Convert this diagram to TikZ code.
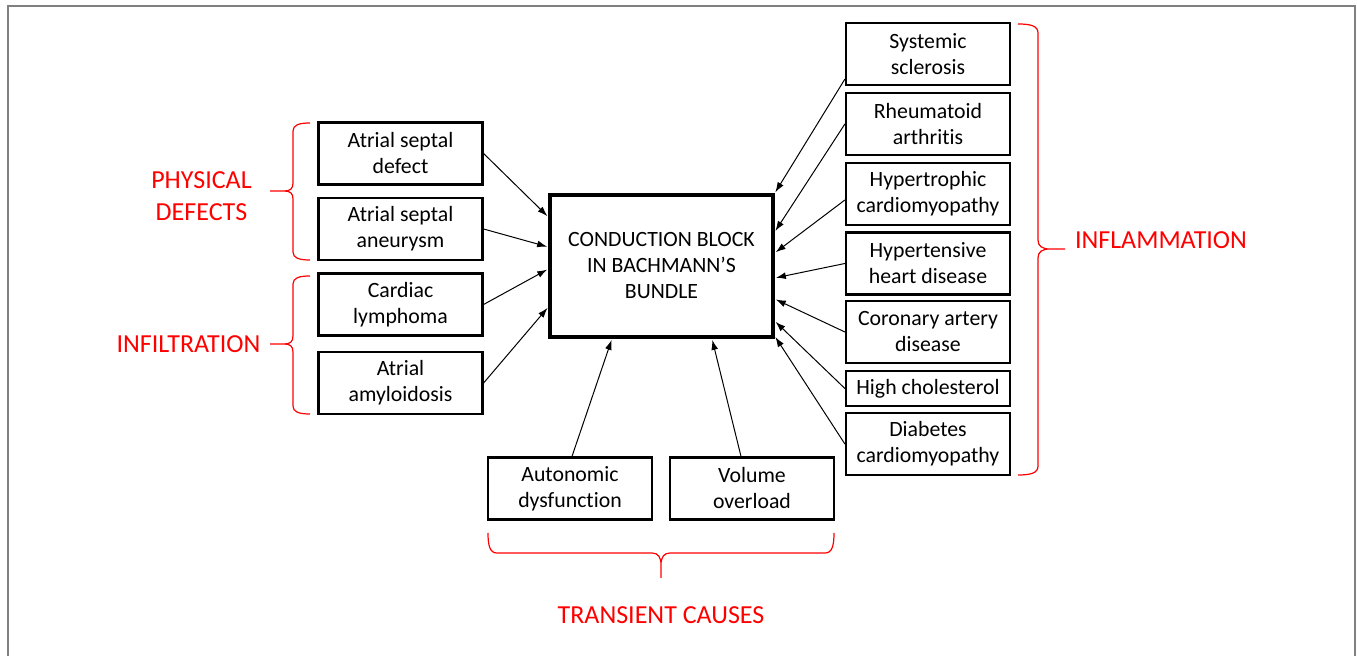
\documentclass[tikz,border=0pt]{standalone}
\usepackage{fontspec}
\setmainfont{Carlito}[Ligatures=NoCommon]
\usetikzlibrary{arrows.meta,calc}
\definecolor{framegray}{RGB}{128,128,128}

\begin{document}
\begin{tikzpicture}[x=0.5pt,y=-0.5pt,
    cause/.style={draw,line width=1.1pt,align=center,minimum width=82pt,
        minimum height=31pt,inner sep=0pt,font=\fontsize{10.9}{13}\selectfont},
    block/.style={cause,line width=1.7pt,minimum width=111.5pt,minimum height=71pt},
    grouplabel/.style={text=red,align=center,inner sep=0pt,
        font=\fontsize{13}{16}\selectfont},
    redbrace/.style={red,line width=0.6pt},
    feed/.style={-{Latex[length=5pt,width=3.4pt]},line width=0.5pt,shorten >=0.6pt}]

    \useasboundingbox (0,0) rectangle (1357,656);
    \draw[framegray,line width=0.8pt] (8,656) -- (8,6) -- (1355,6) -- (1355,656);

    % the block
    \node[block] (cb) at (661.5,266) {CONDUCTION BLOCK\\IN BACHMANN’S\\BUNDLE};

    % the causes
    \node[cause] (asd) at (400.5,153.5) {Atrial septal\\defect};
    \node[cause] (asa) at (400.5,229) {Atrial septal\\aneurysm};
    \node[cause] (lym) at (400.5,304.5) {Cardiac\\lymphoma};
    \node[cause] (amy) at (400.5,383) {Atrial\\amyloidosis};

    \node[cause] (ssc) at (928,54) {Systemic\\sclerosis};
    \node[cause] (ra) at (928,124) {Rheumatoid\\arthritis};
    \node[cause] (hcm) at (928,194) {Hypertrophic\\cardiomyopathy};
    \node[cause] (hhd) at (928,263.5) {Hypertensive\\heart disease};
    \node[cause] (cad) at (928,332) {Coronary artery\\disease};
    \node[cause,minimum height=17.5pt] (hc) at (928,388.5) {High cholesterol};
    \node[cause] (dcm) at (928,444) {Diabetes\\cardiomyopathy};

    \node[cause] (aut) at (570,488.5) {Autonomic\\dysfunction};
    \node[cause] (vol) at (752,488.5) {Volume\\overload};

    % the arrows
    \draw[feed] (asd.east) -- ($(cb.west)+(0,-49)$);
    \draw[feed] (asa.east) -- ($(cb.west)+(0,-19)$);
    \draw[feed] (lym.east) -- ($(cb.west)+(0,3)$);
    \draw[feed] (amy.east) -- ($(cb.west)+(0,41)$);

    \draw[feed] ($(ssc.south west)+(0,-7)$) -- (cb.north east);
    \draw[feed] (ra.west) -- ($(cb.east)+(0,-34)$);
    \draw[feed] ($(hcm.west)+(0,6)$) -- ($(cb.east)+(0,-13)$);
    \draw[feed] (hhd.west) -- ($(cb.east)+(0,12)$);
    \draw[feed] (cad.west) -- ($(cb.east)+(0,33)$);
    \draw[feed] (hc.west) -- ($(cb.east)+(0,55)$);
    \draw[feed] (dcm.west) -- ($(cb.east)+(0,70)$);

    \draw[feed] ($(aut.north)+(2,0)$) -- ($(cb.south)+(-49.5,0)$);
    \draw[feed] ($(vol.north)+(-11,0)$) -- ($(cb.south)+(50.5,0)$);

    % the braces
    \draw[redbrace] (310,123) .. controls (299,123) and (293,125) .. (293,131)
      -- (293,183) .. controls (293,189) and (290,191) .. (284,191) -- (270,191)
      -- (284,191) .. controls (290,191) and (293,193) .. (293,199)
      -- (293,252) .. controls (293,258) and (299,260) .. (310,260);
    \draw[redbrace] (310,276) .. controls (299,276) and (293,278) .. (293,284)
      -- (293,336) .. controls (293,342) and (290,344) .. (284,344) -- (270,344)
      -- (284,344) .. controls (290,344) and (293,346) .. (293,352)
      -- (293,406) .. controls (293,412) and (299,414) .. (310,414);
    \draw[redbrace] (1018,24) .. controls (1031,24) and (1038,26) .. (1038,33)
      -- (1038,240) .. controls (1038,246) and (1042,249) .. (1050,249) -- (1065,249)
      -- (1050,249) .. controls (1042,249) and (1038,252) .. (1038,258)
      -- (1038,466) .. controls (1038,473) and (1031,475) .. (1018,475);
    \draw[redbrace] (488,533) .. controls (488,546) and (490,553) .. (497,553)
      -- (652,553) .. controls (658,553) and (661,557) .. (661,565) -- (661,578)
      -- (661,565) .. controls (661,557) and (664,553) .. (670,553)
      -- (825,553) .. controls (832,553) and (834,546) .. (834,533);

    % the groups
    \node[grouplabel] (phys) at (201.5,196) {PHYSICAL\\DEFECTS};
    \node[grouplabel] (infil) at (188.5,344) {INFILTRATION};
    \node[grouplabel] (inflam) at (1161,240) {INFLAMMATION};
    \node[grouplabel] (trans) at (661,615) {TRANSIENT CAUSES};
\end{tikzpicture}
\end{document}
